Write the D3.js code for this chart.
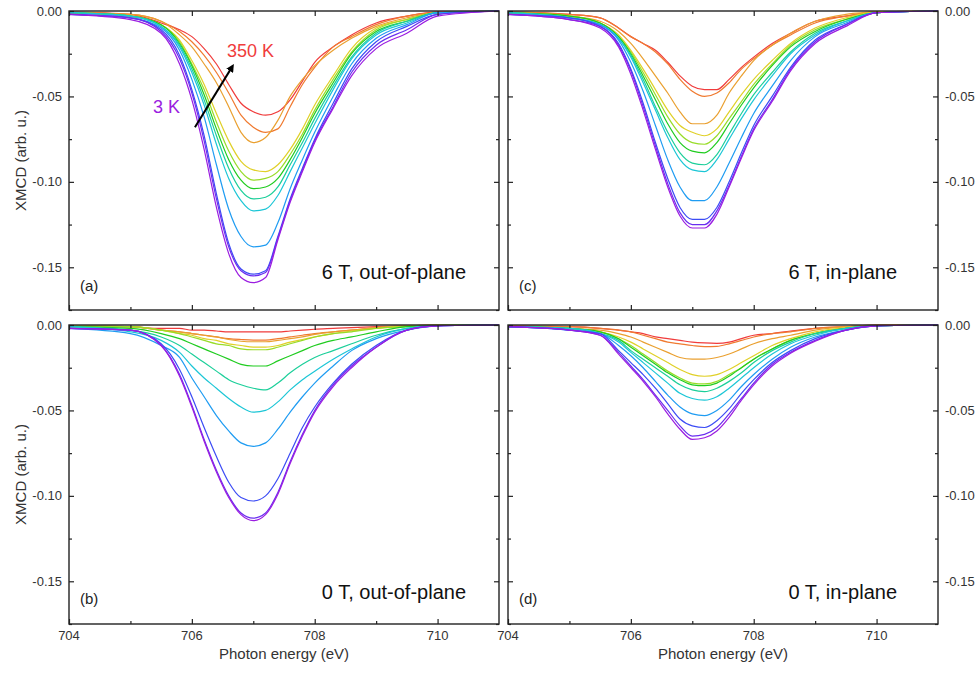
<!DOCTYPE html>
<html>
<head>
<meta charset="utf-8">
<script src="https://cdn.jsdelivr.net/npm/d3@7"></script>
<style>
  body { margin: 0; background: #fff; }
  svg { display: block; font-family: Arial, "Liberation Sans", sans-serif; }
</style>
</head>
<body>
<div class="container"></div>
<script>
// photon energy grid (eV) shared by all spectra
const energy = [704, 705, 705.5, 705.8, 706, 706.2, 706.4, 706.6, 706.8, 707, 707.2, 707.4, 707.6, 707.8, 708, 708.3, 708.6, 709, 709.5, 710, 711];

// temperature curves go 3 K (violet) -> 350 K (red)
const colors = ['#9b1de0', '#6a2ef0', '#3c4cf5', '#1f9cf2', '#1cc6d6', '#1ccf9a', '#20cc20', '#98dc28', '#e0d028', '#eaa030', '#f07a30', '#f03c3c'];

// (a) 6 T, out-of-plane
const outOfPlane6T = [
  [-0.002, -0.005, -0.013, -0.031, -0.052, -0.081, -0.115, -0.142, -0.156, -0.159, -0.156, -0.134, -0.112, -0.094, -0.077, -0.057, -0.038, -0.022, -0.013, -0.003, 0],
  [-0.002, -0.004, -0.012, -0.028, -0.048, -0.076, -0.110, -0.138, -0.152, -0.155, -0.153, -0.133, -0.111, -0.093, -0.076, -0.056, -0.036, -0.020, -0.011, -0.002, 0],
  [-0.002, -0.004, -0.011, -0.026, -0.046, -0.073, -0.107, -0.136, -0.151, -0.154, -0.152, -0.132, -0.110, -0.092, -0.075, -0.054, -0.034, -0.018, -0.009, -0.002, 0],
  [-0.002, -0.004, -0.010, -0.023, -0.040, -0.062, -0.090, -0.116, -0.132, -0.138, -0.137, -0.124, -0.104, -0.087, -0.071, -0.050, -0.031, -0.016, -0.008, -0.001, 0],
  [-0.001, -0.003, -0.009, -0.021, -0.036, -0.055, -0.078, -0.098, -0.111, -0.117, -0.116, -0.108, -0.094, -0.080, -0.066, -0.046, -0.028, -0.014, -0.007, -0.001, 0],
  [-0.001, -0.003, -0.009, -0.020, -0.034, -0.052, -0.073, -0.092, -0.105, -0.110, -0.109, -0.103, -0.090, -0.077, -0.063, -0.044, -0.027, -0.013, -0.006, -0.001, 0],
  [-0.001, -0.003, -0.008, -0.019, -0.032, -0.049, -0.069, -0.087, -0.099, -0.104, -0.103, -0.098, -0.087, -0.074, -0.060, -0.042, -0.025, -0.012, -0.006, -0.001, 0],
  [-0.001, -0.003, -0.008, -0.018, -0.031, -0.046, -0.065, -0.082, -0.094, -0.099, -0.098, -0.094, -0.084, -0.072, -0.058, -0.040, -0.024, -0.011, -0.005, -0.001, 0],
  [-0.001, -0.003, -0.008, -0.017, -0.029, -0.043, -0.060, -0.076, -0.088, -0.093, -0.094, -0.090, -0.081, -0.069, -0.055, -0.038, -0.022, -0.010, -0.005, -0.001, 0],
  [-0.001, -0.002, -0.006, -0.014, -0.021, -0.031, -0.042, -0.056, -0.071, -0.077, -0.074, -0.064, -0.050, -0.040, -0.032, -0.023, -0.016, -0.009, -0.004, -0.001, 0],
  [-0.001, -0.002, -0.006, -0.012, -0.018, -0.026, -0.036, -0.048, -0.061, -0.068, -0.071, -0.069, -0.056, -0.043, -0.033, -0.021, -0.015, -0.008, -0.003, -0.001, 0],
  [-0.0005, -0.002, -0.007, -0.011, -0.015, -0.022, -0.031, -0.043, -0.054, -0.059, -0.061, -0.059, -0.052, -0.041, -0.030, -0.021, -0.014, -0.007, -0.003, -0.0005, 0]
];

// (b) 0 T, out-of-plane
const outOfPlane0T = [
  [-0.002, -0.003, -0.012, -0.030, -0.048, -0.068, -0.086, -0.101, -0.111, -0.1145, -0.111, -0.099, -0.081, -0.065, -0.051, -0.036, -0.025, -0.013, -0.003, -0.0005, 0],
  [-0.002, -0.003, -0.012, -0.029, -0.047, -0.067, -0.085, -0.100, -0.110, -0.113, -0.110, -0.098, -0.080, -0.064, -0.050, -0.035, -0.024, -0.013, -0.003, -0.0005, 0],
  [-0.002, -0.003, -0.011, -0.026, -0.042, -0.060, -0.077, -0.092, -0.101, -0.103, -0.100, -0.090, -0.075, -0.060, -0.048, -0.034, -0.023, -0.012, -0.003, -0.0005, 0],
  [-0.002, -0.005, -0.012, -0.019, -0.031, -0.042, -0.053, -0.062, -0.069, -0.071, -0.069, -0.061, -0.051, -0.042, -0.034, -0.024, -0.015, -0.008, -0.003, -0.0005, 0],
  [-0.001, -0.004, -0.009, -0.016, -0.024, -0.031, -0.037, -0.043, -0.048, -0.051, -0.050, -0.045, -0.038, -0.032, -0.027, -0.020, -0.014, -0.007, -0.002, -0.0003, 0],
  [-0.001, -0.003, -0.007, -0.012, -0.017, -0.022, -0.027, -0.032, -0.035, -0.037, -0.038, -0.034, -0.028, -0.023, -0.019, -0.015, -0.011, -0.006, -0.002, -0.0003, 0],
  [-0.001, -0.002, -0.005, -0.008, -0.011, -0.014, -0.017, -0.020, -0.023, -0.024, -0.024, -0.021, -0.018, -0.015, -0.012, -0.009, -0.007, -0.004, -0.001, -0.0003, 0],
  [-0.0005, -0.001, -0.003, -0.005, -0.007, -0.009, -0.011, -0.012, -0.014, -0.0145, -0.0145, -0.013, -0.011, -0.009, -0.007, -0.005, -0.004, -0.002, -0.001, 0, 0],
  [-0.0005, -0.001, -0.003, -0.005, -0.006, -0.008, -0.009, -0.011, -0.012, -0.013, -0.013, -0.012, -0.010, -0.0085, -0.007, -0.005, -0.0035, -0.002, -0.0005, 0, 0],
  [-0.0005, -0.001, -0.003, -0.004, -0.005, -0.006, -0.007, -0.0085, -0.0095, -0.0098, -0.0098, -0.009, -0.008, -0.007, -0.0055, -0.004, -0.003, -0.0015, -0.0005, 0, 0],
  [-0.0005, -0.001, -0.003, -0.004, -0.005, -0.006, -0.007, -0.008, -0.0085, -0.0088, -0.0088, -0.008, -0.007, -0.006, -0.005, -0.004, -0.003, -0.0015, -0.0005, 0, 0],
  [-0.0005, -0.001, -0.002, -0.002, -0.003, -0.003, -0.0035, -0.004, -0.004, -0.004, -0.004, -0.004, -0.0035, -0.003, -0.0025, -0.002, -0.0015, -0.001, -0.0005, 0, 0]
];

// (c) 6 T, in-plane
const inPlane6T = [
  [-0.002, -0.005, -0.010, -0.021, -0.037, -0.058, -0.081, -0.103, -0.120, -0.127, -0.127, -0.119, -0.103, -0.086, -0.070, -0.053, -0.035, -0.019, -0.009, -0.001, 0],
  [-0.002, -0.005, -0.009, -0.020, -0.035, -0.056, -0.079, -0.101, -0.118, -0.125, -0.125, -0.117, -0.102, -0.085, -0.069, -0.052, -0.034, -0.018, -0.008, -0.001, 0],
  [-0.002, -0.004, -0.009, -0.019, -0.034, -0.054, -0.077, -0.098, -0.115, -0.122, -0.122, -0.115, -0.100, -0.083, -0.067, -0.050, -0.033, -0.017, -0.008, -0.001, 0],
  [-0.002, -0.004, -0.008, -0.017, -0.030, -0.047, -0.067, -0.087, -0.103, -0.111, -0.111, -0.103, -0.089, -0.074, -0.060, -0.044, -0.029, -0.015, -0.007, -0.001, 0],
  [-0.001, -0.004, -0.008, -0.016, -0.027, -0.042, -0.058, -0.074, -0.087, -0.093, -0.094, -0.087, -0.075, -0.063, -0.052, -0.038, -0.025, -0.014, -0.006, -0.001, 0],
  [-0.001, -0.004, -0.008, -0.016, -0.026, -0.040, -0.056, -0.071, -0.083, -0.089, -0.090, -0.084, -0.072, -0.060, -0.049, -0.036, -0.024, -0.013, -0.006, -0.001, 0],
  [-0.001, -0.003, -0.007, -0.015, -0.025, -0.038, -0.052, -0.066, -0.077, -0.082, -0.083, -0.077, -0.066, -0.055, -0.045, -0.032, -0.021, -0.012, -0.005, -0.001, 0],
  [-0.001, -0.003, -0.007, -0.015, -0.024, -0.036, -0.049, -0.062, -0.072, -0.077, -0.078, -0.073, -0.063, -0.053, -0.043, -0.031, -0.020, -0.011, -0.005, -0.001, 0],
  [-0.001, -0.003, -0.007, -0.014, -0.023, -0.034, -0.046, -0.058, -0.067, -0.071, -0.073, -0.069, -0.059, -0.049, -0.040, -0.029, -0.019, -0.010, -0.004, -0.0005, 0],
  [-0.001, -0.003, -0.006, -0.012, -0.019, -0.028, -0.038, -0.048, -0.059, -0.066, -0.066, -0.061, -0.048, -0.038, -0.029, -0.020, -0.013, -0.006, -0.002, -0.0005, 0],
  [-0.0005, -0.002, -0.004, -0.010, -0.015, -0.019, -0.024, -0.031, -0.040, -0.047, -0.050, -0.048, -0.042, -0.034, -0.028, -0.020, -0.014, -0.007, -0.003, -0.0005, 0],
  [-0.0005, -0.002, -0.004, -0.010, -0.015, -0.019, -0.023, -0.030, -0.038, -0.044, -0.046, -0.046, -0.040, -0.033, -0.027, -0.019, -0.013, -0.006, -0.003, -0.0005, 0]
];

// (d) 0 T, in-plane
const inPlane0T = [
  [-0.001, -0.003, -0.006, -0.017, -0.025, -0.033, -0.042, -0.052, -0.061, -0.067, -0.066, -0.062, -0.054, -0.044, -0.035, -0.024, -0.0165, -0.0095, -0.003, -0.0005, 0],
  [-0.001, -0.003, -0.006, -0.016, -0.024, -0.032, -0.041, -0.050, -0.059, -0.065, -0.064, -0.060, -0.052, -0.043, -0.034, -0.023, -0.016, -0.009, -0.003, -0.0005, 0],
  [-0.001, -0.003, -0.005, -0.015, -0.022, -0.029, -0.037, -0.046, -0.055, -0.059, -0.060, -0.056, -0.049, -0.040, -0.032, -0.022, -0.015, -0.008, -0.003, -0.0005, 0],
  [-0.001, -0.003, -0.005, -0.012, -0.018, -0.025, -0.033, -0.041, -0.048, -0.052, -0.053, -0.050, -0.044, -0.036, -0.029, -0.020, -0.013, -0.007, -0.003, -0.0005, 0],
  [-0.001, -0.002, -0.005, -0.010, -0.016, -0.022, -0.028, -0.034, -0.040, -0.043, -0.044, -0.042, -0.037, -0.031, -0.025, -0.017, -0.011, -0.006, -0.002, -0.0005, 0],
  [-0.001, -0.002, -0.005, -0.009, -0.015, -0.020, -0.025, -0.030, -0.035, -0.038, -0.039, -0.037, -0.033, -0.028, -0.022, -0.015, -0.010, -0.005, -0.002, -0.0005, 0],
  [-0.001, -0.002, -0.004, -0.008, -0.013, -0.018, -0.023, -0.028, -0.032, -0.035, -0.0355, -0.034, -0.030, -0.025, -0.020, -0.014, -0.009, -0.005, -0.002, -0.0005, 0],
  [-0.001, -0.002, -0.004, -0.008, -0.012, -0.017, -0.022, -0.027, -0.031, -0.034, -0.0345, -0.033, -0.029, -0.025, -0.020, -0.014, -0.009, -0.005, -0.002, -0.0005, 0],
  [-0.001, -0.002, -0.004, -0.007, -0.010, -0.014, -0.018, -0.022, -0.026, -0.029, -0.030, -0.029, -0.026, -0.022, -0.018, -0.012, -0.008, -0.004, -0.0015, -0.0005, 0],
  [-0.0005, -0.002, -0.003, -0.005, -0.007, -0.010, -0.013, -0.016, -0.019, -0.020, -0.020, -0.019, -0.017, -0.014, -0.011, -0.008, -0.006, -0.003, -0.001, 0, 0],
  [-0.0005, -0.001, -0.002, -0.003, -0.004, -0.006, -0.008, -0.010, -0.011, -0.012, -0.0127, -0.0125, -0.011, -0.009, -0.007, -0.005, -0.004, -0.002, -0.001, 0, 0],
  [-0.0005, -0.001, -0.002, -0.003, -0.004, -0.005, -0.007, -0.008, -0.009, -0.010, -0.0105, -0.0107, -0.010, -0.008, -0.006, -0.005, -0.0035, -0.002, -0.001, 0, 0]
];

// axis ticks
const xMajor = [704, 706, 708, 710];
const xMinor = [705, 707, 709];
const yMajor = [0, -0.05, -0.10, -0.15];
const yMinor = [-0.025, -0.075, -0.125, -0.175];

const width = 979;
const height = 677;
const ink = '#222';

const svg = d3.select('.container')
  .append('svg')
  .attr('width', width)
  .attr('height', height);

// panel boxes
const panels = [
  {data: outOfPlane6T, left: 69, right: 499, top: 11, bottom: 310, side: 'left', xLabels: false, tag: '(a)', title: '6 T, out-of-plane', titleX: 466, titleY: 279, tagY: 291},
  {data: outOfPlane0T, left: 69, right: 499, top: 325, bottom: 624, side: 'left', xLabels: true, tag: '(b)', title: '0 T, out-of-plane', titleX: 466, titleY: 599, tagY: 604},
  {data: inPlane6T, left: 508, right: 938, top: 11, bottom: 310, side: 'right', xLabels: false, tag: '(c)', title: '6 T, in-plane', titleX: 897, titleY: 279, tagY: 291},
  {data: inPlane0T, left: 508, right: 938, top: 325, bottom: 624, side: 'right', xLabels: true, tag: '(d)', title: '0 T, in-plane', titleX: 897, titleY: 599, tagY: 604}
];

panels.forEach(p => {
  const x = d3.scaleLinear().domain([704, 711]).range([p.left, p.right]);
  const y = d3.scaleLinear().domain([-0.175, 0]).range([p.bottom, p.top]);
  const g = svg.append('g');

  const line = d3.line()
    .x((d, i) => x(energy[i]))
    .y(d => y(d))
    .curve(d3.curveMonotoneX);

  // spectra, red drawn first so violet ends up on top
  g.selectAll('path.curve')
    .data(p.data.slice().reverse())
    .enter()
    .append('path')
    .attr('class', 'curve')
    .attr('d', line)
    .attr('fill', 'none')
    .attr('stroke', (d, i) => colors[colors.length - 1 - i])
    .attr('stroke-width', 1.2);

  // inward ticks on all four sides
  const ticks = (axis, values, size) => axis.tickValues(values).tickSize(-size).tickFormat('');
  const frame = [
    [() => d3.axisBottom(x), `translate(0,${p.bottom})`],
    [() => d3.axisTop(x), `translate(0,${p.top})`],
    [() => d3.axisLeft(y), `translate(${p.left},0)`],
    [() => d3.axisRight(y), `translate(${p.right},0)`]
  ];
  frame.forEach(([make, tr], k) => {
    const major = k < 2 ? xMajor : yMajor;
    const minor = k < 2 ? xMinor : yMinor;
    g.append('g').attr('transform', tr).call(ticks(make(), major, 5))
      .call(s => s.select('.domain').remove());
    g.append('g').attr('transform', tr).call(ticks(make(), minor, 3))
      .call(s => s.select('.domain').remove());
  });
  g.selectAll('.tick line').attr('stroke', ink).attr('stroke-width', 1.2);

  g.append('rect')
    .attr('x', p.left).attr('y', p.top)
    .attr('width', p.right - p.left).attr('height', p.bottom - p.top)
    .attr('fill', 'none').attr('stroke', ink).attr('stroke-width', 1.4);

  // y tick labels
  g.selectAll('text.ylab')
    .data(yMajor)
    .enter()
    .append('text')
    .attr('class', 'ylab')
    .attr('x', p.side === 'left' ? p.left - 7 : p.right + 7)
    .attr('y', d => y(d))
    .attr('dy', '0.35em')
    .attr('text-anchor', p.side === 'left' ? 'end' : 'start')
    .attr('font-size', 13)
    .attr('fill', '#333')
    .text(d => d3.format('.2f')(d).replace('−', '-'));

  if (p.xLabels) {
    g.selectAll('text.xlab')
      .data(xMajor)
      .enter()
      .append('text')
      .attr('class', 'xlab')
      .attr('x', d => x(d))
      .attr('y', p.bottom + 16)
      .attr('text-anchor', 'middle')
      .attr('font-size', 13)
      .attr('fill', '#333')
      .text(d => d);

    g.append('text')
      .attr('x', (p.left + p.right) / 2)
      .attr('y', 659)
      .attr('text-anchor', 'middle')
      .attr('font-size', 15)
      .attr('fill', '#333')
      .text('Photon energy (eV)');
  }

  if (p.side === 'left') {
    g.append('text')
      .attr('transform', `translate(26,${(p.top + p.bottom) / 2}) rotate(-90)`)
      .attr('text-anchor', 'middle')
      .attr('font-size', 15)
      .attr('fill', '#333')
      .text('XMCD (arb. u.)');
  }

  g.append('text')
    .attr('x', p.left + 11)
    .attr('y', p.tagY)
    .attr('font-size', 15)
    .attr('fill', '#222')
    .text(p.tag);

  g.append('text')
    .attr('x', p.titleX)
    .attr('y', p.titleY)
    .attr('text-anchor', 'end')
    .attr('font-size', 20)
    .attr('fill', '#111')
    .text(p.title);

  // temperature annotation only in panel (a)
  if (p.tag === '(a)') {
    g.append('text')
      .attr('x', 227).attr('y', 57)
      .attr('font-size', 18)
      .attr('fill', colors[11])
      .text('350 K');
    g.append('text')
      .attr('x', 153).attr('y', 113)
      .attr('font-size', 18)
      .attr('fill', colors[0])
      .text('3 K');

    svg.append('defs').append('marker')
      .attr('id', 'head')
      .attr('viewBox', '0 0 10 10')
      .attr('refX', 5).attr('refY', 5)
      .attr('markerWidth', 4).attr('markerHeight', 4)
      .attr('orient', 'auto')
      .append('path')
      .attr('d', 'M0,0L10,5L0,10z')
      .attr('fill', '#000');

    g.append('line')
      .attr('x1', x(706.05)).attr('y1', y(-0.068))
      .attr('x2', x(706.65)).attr('y2', y(-0.033))
      .attr('stroke', '#000')
      .attr('stroke-width', 2)
      .attr('marker-end', 'url(#head)');
  }
});
</script>
</body>
</html>
